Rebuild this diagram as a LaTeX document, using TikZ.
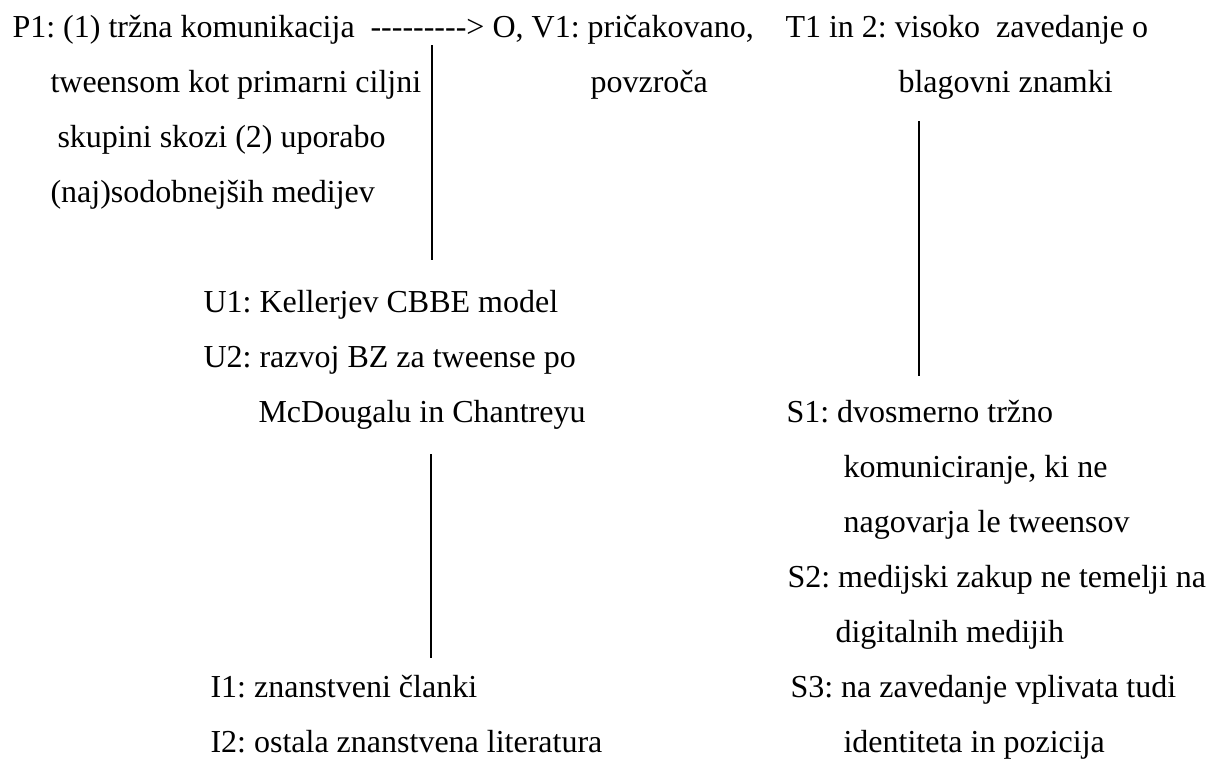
\documentclass[tikz,border=0pt]{standalone}
\usepackage{fontspec}
\setmainfont{Liberation Serif}
\usepackage{tikz}
\frenchspacing
\newcommand{\hy}{\mbox{-}}
\tikzstyle{every node}=[font=\fontsize{12}{14}\selectfont]
\tikzstyle{txt}=[anchor=base west,inner sep=0pt]
\tikzstyle{vline}=[line width=1pt]

\begin{document}
\begin{tikzpicture}[line cap=butt,line join=round,x=0.375pt,y=-0.375pt]
            \useasboundingbox (0,0) rectangle (1215,758);
            % top row
            \node[txt] (pa) at (12,37) {P1: (1) tržna komunikacija};
            \node[txt] (dash) at (370,37) {\hy\hy\hy\hy\hy\hy\hy\hy\hy>};
            \node[txt] (ova) at (492,37) {O, V1: pričakovano,};
            \node[txt] (ovb) at (590,92) {povzroča};
            \node[txt] (ta) at (785,37) {T1 in 2: visoko\ \ zavedanje o};
            \node[txt] (tb) at (898,92) {blagovni znamki};
            \node[txt] (pb) at (50,92) {tweensom kot primarni ciljni};
            \node[txt] (pc) at (57,147) {skupini skozi (2) uporabo};
            \node[txt] (pd) at (50,202) {(naj)sodobnejših medijev};
            % U
            \node[txt] (ua) at (203,312) {U1: Kellerjev CBBE model};
            \node[txt] (ub) at (203,367) {U2: razvoj BZ za tweense po};
            \node[txt] (uc) at (258,422) {McDougalu in Chantreyu};
            % I
            \node[txt] (ia) at (210,697) {I1: znanstveni članki};
            \node[txt] (ib) at (210,752) {I2: ostala znanstvena literatura};
            % S
            \node[txt] (sa) at (786,422) {S1: dvosmerno tržno};
            \node[txt] (sb) at (843,477) {komuniciranje, ki ne};
            \node[txt] (sc) at (843,532) {nagovarja le tweensov};
            \node[txt] (sd) at (787,587) {S2: medijski zakup ne temelji na};
            \node[txt] (se) at (835,642) {digitalnih medijih};
            \node[txt] (sf) at (790,697) {S3: na zavedanje vplivata tudi};
            \node[txt] (sg) at (843,752) {identiteta in pozicija};
            % lines
            \coordinate (lonetop) at (432,45);
            \coordinate (lonebot) at (432,260);
            \coordinate (ltwotop) at (919,121);
            \coordinate (ltwobot) at (919,376);
            \coordinate (lthreetop) at (431,454);
            \coordinate (lthreebot) at (431,658);
            \draw [vline] (lonetop) -- (lonebot);
            \draw [vline] (ltwotop) -- (ltwobot);
            \draw [vline] (lthreetop) -- (lthreebot);
        \end{tikzpicture}
\end{document}
